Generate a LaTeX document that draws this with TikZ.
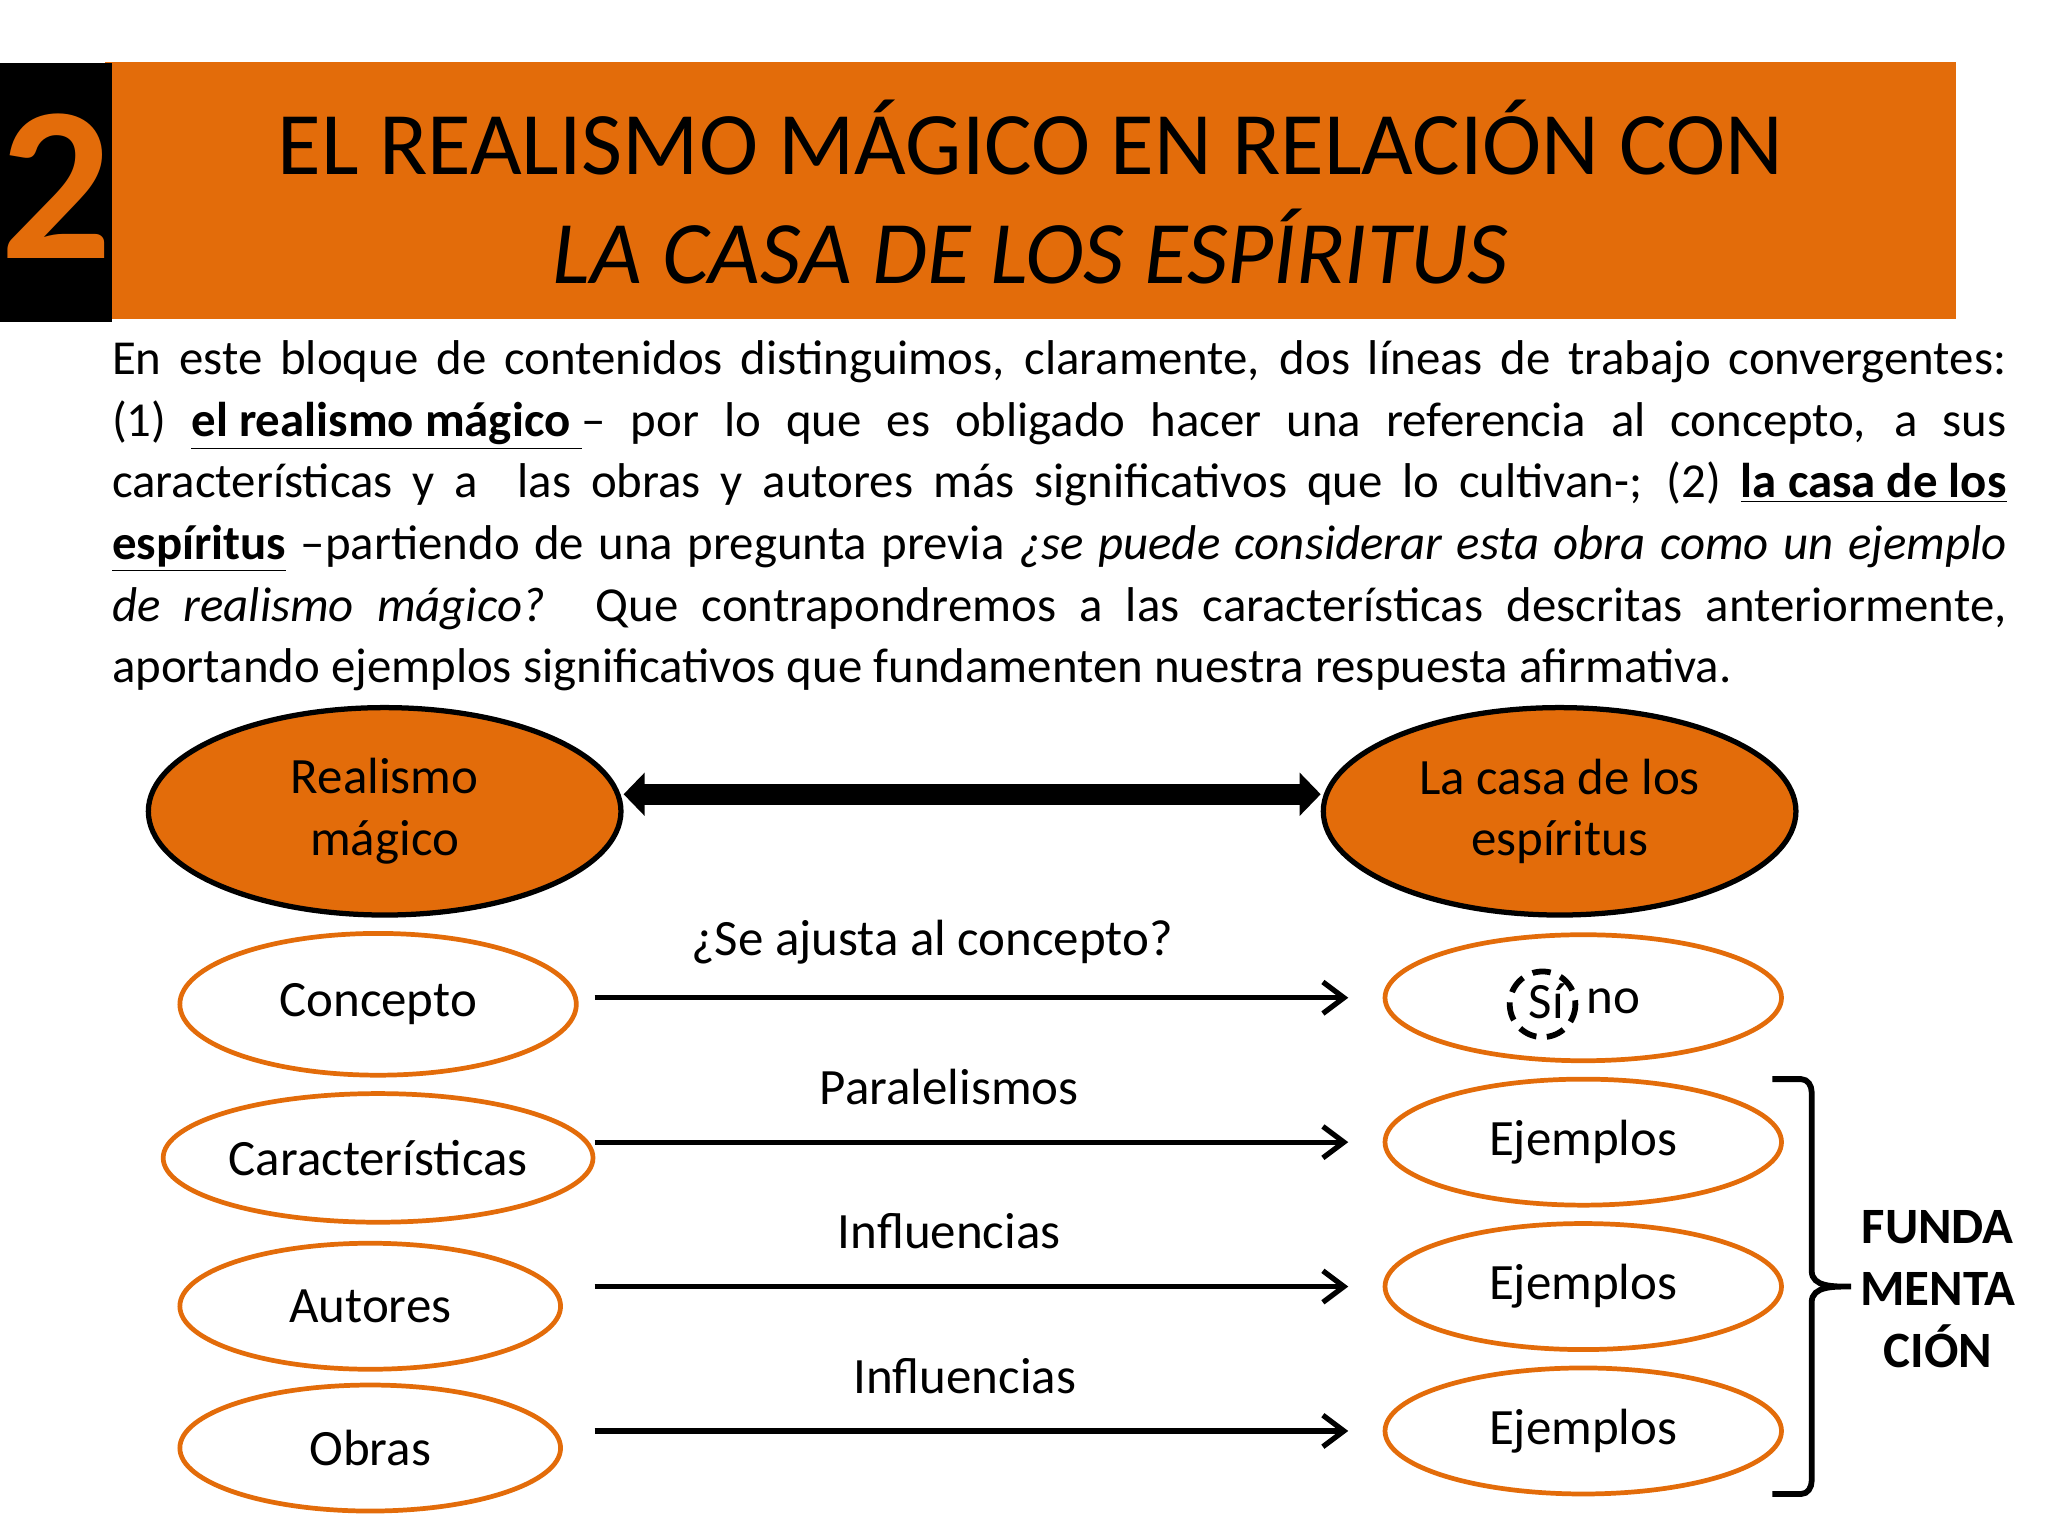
\documentclass[tikz,border=0pt]{standalone}
\usepackage{fontspec}
\setmainfont{Carlito}
\usetikzlibrary{arrows.meta,shapes.geometric}
\definecolor{org}{HTML}{E36C0A}
\begin{document}
\begin{tikzpicture}[x=0.5pt,y=-0.5pt,
  big/.style={ellipse,draw=black,line width=2pt,fill=org,minimum width=180pt,minimum height=79pt,inner sep=1pt,align=center,font=\fontsize{19.4}{23.5}\selectfont},
  sm/.style={ellipse,draw=org,line width=1.8pt,fill=white,inner sep=1pt,font=\fontsize{19.4}{22}\selectfont},
  arr/.style={-{Straight Barb[length=8pt,width=12pt]},line width=2pt},
  lab/.style={font=\fontsize{19.4}{22}\selectfont}]
\useasboundingbox (0,0) rectangle (1560,1170);
\fill[org] (80,47) rectangle (1490,243);
\fill[black] (0,48) rectangle (85,245);
\node[text=org,font=\bfseries\fontsize{84}{84}\selectfont,inner sep=0] (two) at (43,142) {2};
\node[font=\fontsize{34}{40}\selectfont] (t1) at (785,105) {EL REALISMO MÁGICO EN RELACIÓN CON};
\node[font=\itshape\fontsize{34}{40}\selectfont] (t2) at (785,188) {LA CASA DE LOS ESPÍRITUS};
\node[anchor=north west,inner sep=0,text width=721.5pt,align=justify,font=\fontsize{18.6}{23.5}\selectfont] (par) at (85,259) {En este bloque de contenidos distinguimos, claramente, dos líneas de trabajo convergentes:\linebreak
(1) \textbf{\underline{el realismo mágico }}– por lo que es obligado hacer una referencia al concepto, a sus\linebreak
características y a \ las obras y autores más significativos que lo cultivan-; (2) \textbf{\underline{la casa de los}}\linebreak
\textbf{\underline{espíritus}} –partiendo de una pregunta previa \textit{¿se puede considerar esta obra como un ejemplo}\linebreak
\textit{de realismo mágico?} Que contrapondremos a las características descritas anteriormente,\linebreak
aportando ejemplos significativos que fundamenten nuestra respuesta afirmativa.\par};
\node[big] (rm) at (293,618) {Realismo\\mágico};
\node[big] (lc) at (1188,618) {La casa de los\\espíritus};
\draw[{Triangle[length=8pt,width=16pt]}-{Triangle[length=8pt,width=16pt]},line width=8pt] (rm.east|-0,605) -- (lc.west|-0,605);
\foreach \n/\t/\y/\w/\h/\x in {c/Concepto/765/151/54/288,ca/Características/882/151/49/288,au/Autores/995/145/48/282,ob/Obras/1103/145/48/282}{
  \node[sm,minimum width=\w pt,minimum height=\h pt] (\n) at (\x,\y) {\t};}
\foreach \n/\y in {r1/760,r2/870,r3/980,r4/1090}{
  \node[sm,minimum width=151pt,minimum height=48pt] (\n) at (1206,\y) {};}
\node[lab] (e2) at (r2) {Ejemplos};
\node[lab] (e3) at (r3) {Ejemplos};
\node[lab] (e4) at (r4) {Ejemplos};
\node[lab] (si) at (1178,763) {Sí};
\node[lab] (no) at (1229,763) {no};
\draw[line width=2.2pt,dash pattern=on 7pt off 4pt] (1175,765) circle (25);
\coordinate (a1) at (453,760); \coordinate (b1) at (1027,760);
\coordinate (a2) at (453,870); \coordinate (b2) at (1027,870);
\coordinate (a3) at (453,980); \coordinate (b3) at (1027,980);
\coordinate (a4) at (453,1090); \coordinate (b4) at (1027,1090);
\draw[arr] (a1) -- (b1); \draw[arr] (a2) -- (b2); \draw[arr] (a3) -- (b3); \draw[arr] (a4) -- (b4);
\node[lab] (l1) at (710,718) {¿Se ajusta al concepto?};
\node[lab] (l2) at (723,828) {Paralelismos};
\node[lab] (l3) at (723,938) {Influencias};
\node[lab] (l4) at (735,1048) {Influencias};
\draw[line width=2.2pt] (1350,822) -- (1372,822) to[out=0,in=90] (1380,832) -- (1380,968) to[out=-90,in=180] (1410,980) to[out=180,in=90] (1380,992) -- (1380,1128) to[out=-90,in=0] (1372,1138) -- (1350,1138);
\node[align=center,font=\bfseries\fontsize{19.4}{23.5}\selectfont] (f) at (1476,982) {FUNDA\\MENTA\\CIÓN};
\end{tikzpicture}
\end{document}
